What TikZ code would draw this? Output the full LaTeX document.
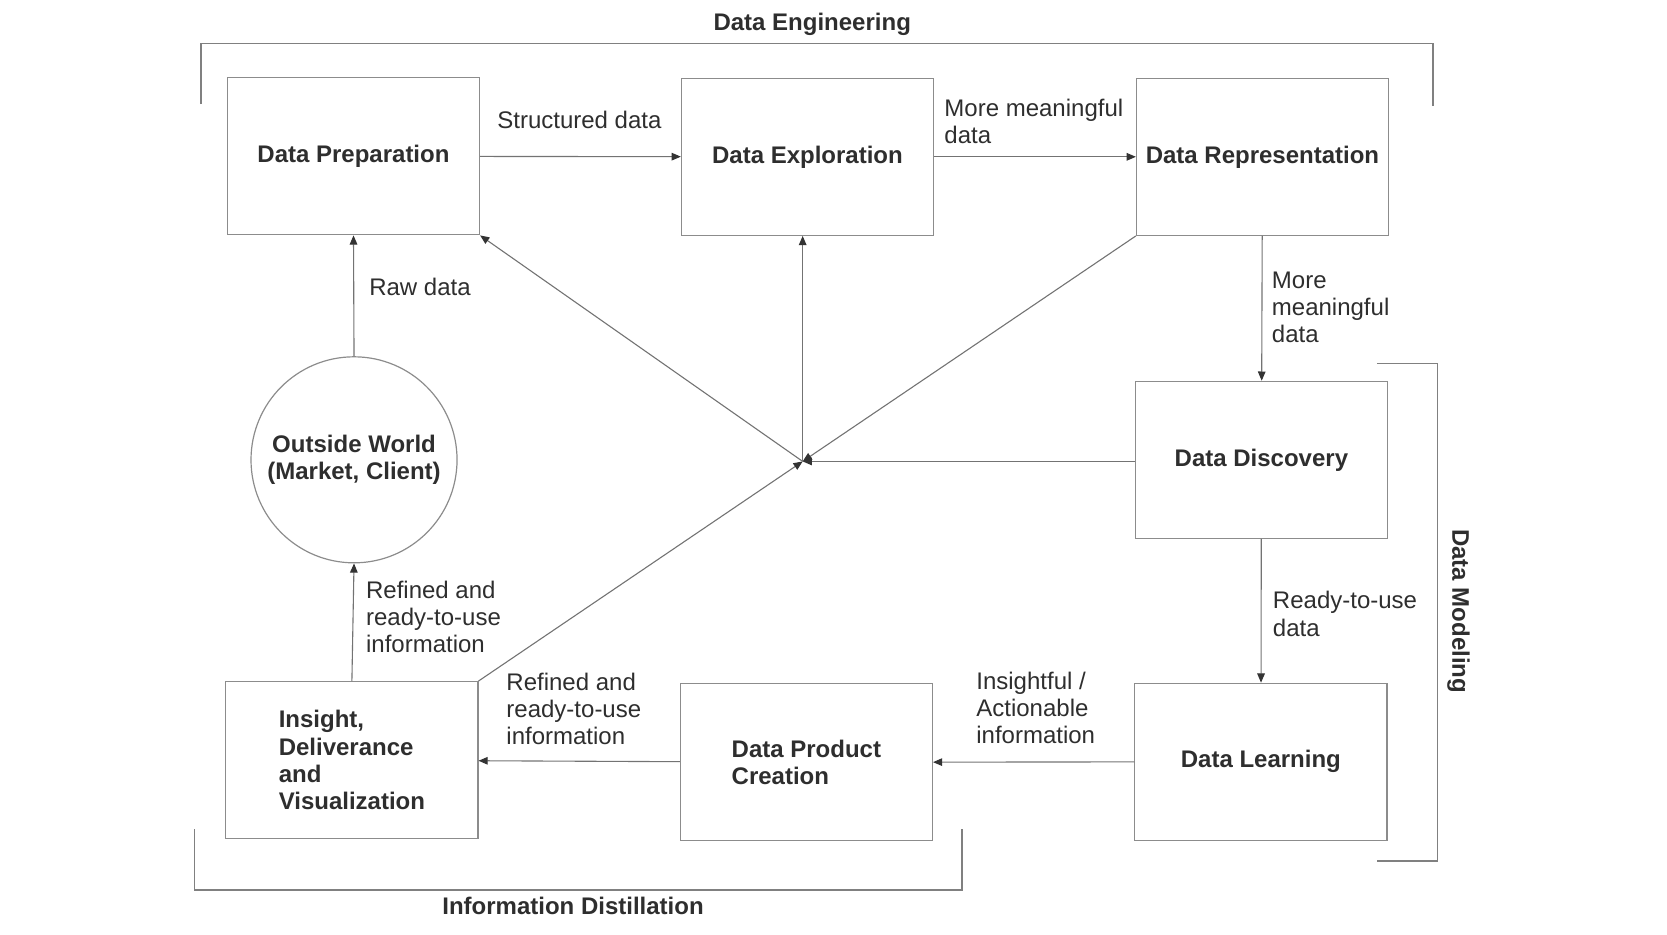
\documentclass[tikz,border=0pt]{standalone}
\usepackage{fontspec}
\setmainfont{Liberation Sans}
\usetikzlibrary{positioning,arrows.meta}

\begin{document}
\begin{tikzpicture}[
  x=0.5315pt, y=-0.5315pt,
  font=\fontsize{12}{13.6}\selectfont,
  >={Triangle[length=4.6pt, width=3.8pt, color=black!80]},
  stage/.style={draw=black!45, line width=0.6pt, minimum width=126pt, minimum height=78.5pt,
                inner sep=0pt, font=\fontsize{12}{13.6}\selectfont\bfseries, text=black!82},
  world/.style={circle, draw=black!45, line width=0.6pt, minimum size=103pt, inner sep=0pt,
                align=center, font=\fontsize{12}{13.6}\selectfont\bfseries, text=black!82},
  flow/.style={->, draw=black!55, line width=0.55pt},
  note/.style={align=left, text=black!82, inner sep=0pt},
  brace/.style={draw=black!50, line width=0.75pt},
  grp/.style={font=\fontsize{12}{13.6}\selectfont\bfseries, text=black!82},
]
\useasboundingbox (0,0) rectangle (1568,879);

% ---- process stages ----
\foreach \name/\x/\y/\txt in {%
  prep/332.5/147/Data Preparation,
  explo/759.5/147.5/Data Exploration,
  repr/1187.5/147.5/Data Representation,
  disc/1186.5/432.5/Data Discovery,
  learn/1186/716.5/Data Learning}{
    \node[stage] (\name) at (\x,\y) {\txt};
}
\node[stage, align=left] (product) at (758.5,717) {Data Product\\Creation};
\node[stage, align=left] (insight) at (331,715) {Insight,\\Deliverance\\and\\Visualization};
\node[world] (outside) at (333,432.5) {Outside World\\(Market, Client)};

% junction in the middle
\coordinate (hub) at (755,434);

% ---- main flow ----
\draw[flow] (prep) -- (explo);
\draw[flow] (explo) -- (repr);
\draw[flow] (repr) -- (disc);
\draw[flow] (disc) -- (learn);
\draw[flow] (learn) -- (product);
\draw[flow] (product) -- (insight);
\draw[flow] (insight.north) -- (outside.south);
\draw[flow] (outside.north) -- (prep.south);

% ---- feedback through the junction ----
\draw[flow] (repr.south west) -- (hub);
\draw[flow] (hub -| disc.west) -- (hub);
\draw[flow] (insight.north east) -- (hub);
\draw[flow] (hub) -- (prep.south east);
\draw[flow] (hub) -- (hub |- explo.south);

% ---- connector labels ----
\node[note] (lStruct) at (545,113) {Structured data};
\node[note, anchor=west] (lMore) at (888,114.5) {More meaningful\\data};
\node[note, anchor=west] (lMoreB) at (1196,289) {More\\meaningful\\data};
\node[note, anchor=west] (lReady) at (1197,577.5) {Ready-to-use\\data};
\node[note, anchor=west] (lInsight) at (918,666) {Insightful /\\Actionable\\information};
\node[note, anchor=west] (lRefined) at (476,667) {Refined and\\ready-to-use\\information};
\node[note, anchor=west] (lRaw) at (347,270) {Raw data};
\node[note, anchor=west] (lRefinedB) at (344,580) {Refined and\\ready-to-use\\information};

% ---- grouping brackets ----
\draw[brace] (189,98) -- (189,41) -- (1348,41) -- (1348,100);
\node[grp] (gEng) at (764,23) {Data Engineering};

\draw[brace] (1295,342) -- (1352,342) -- (1352,810) -- (1295,810);
\node[grp, rotate=-90] (gModel) at (1372,575) {Data Modeling};

\draw[brace] (183,780) -- (183,837) -- (905,837) -- (905,780);
\node[grp] (gDist) at (539,852) {Information Distillation};
\end{tikzpicture}
\end{document}
